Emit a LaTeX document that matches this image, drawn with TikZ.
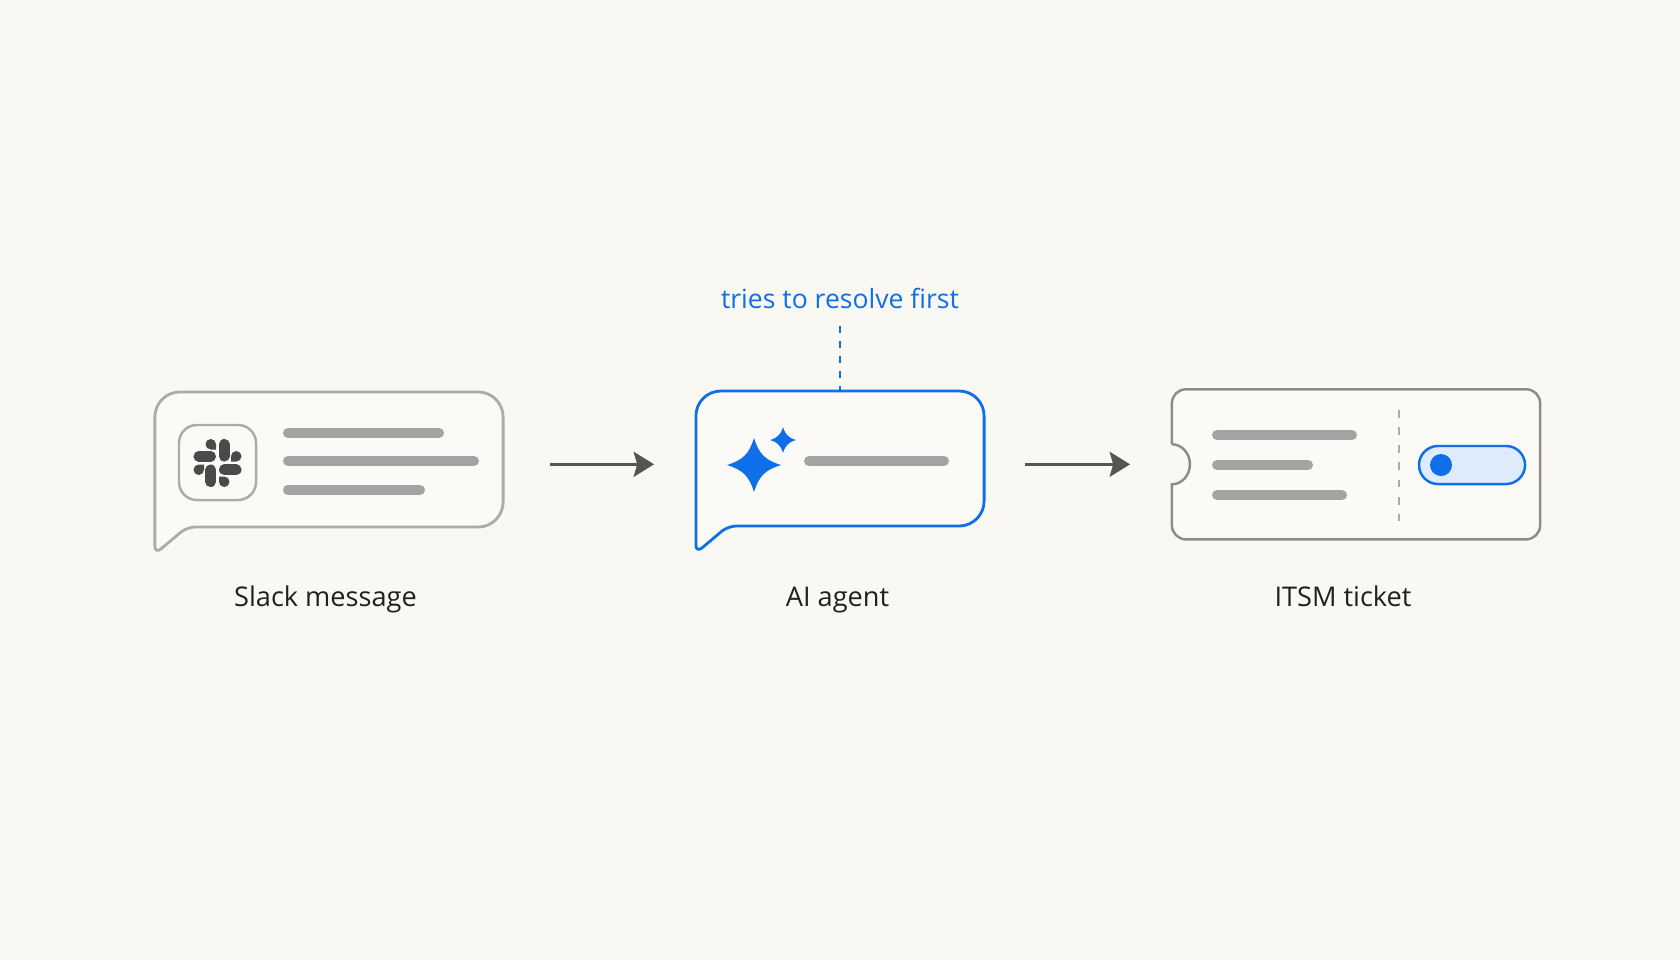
\documentclass[tikz,border=0pt]{standalone}
\usepackage{fontspec}
\setmainfont{Open Sans}
\usetikzlibrary{arrows.meta}
\usetikzlibrary{calc}
\definecolor{pagebg}{HTML}{F9F8F3}
\definecolor{cardbg}{HTML}{FBFAF7}
\definecolor{softgrey}{HTML}{ABABA8}
\definecolor{ticketgrey}{HTML}{8C8C8A}
\definecolor{bargrey}{HTML}{A3A3A3}
\definecolor{logogrey}{HTML}{4A4A4A}
\definecolor{arrowgrey}{HTML}{555555}
\definecolor{agentblue}{HTML}{0F6FE8}
\definecolor{toggleblue}{HTML}{DDEBFB}
\definecolor{inkblack}{HTML}{202124}
\begin{document}
\begin{tikzpicture}[x=0.01cm, y=-0.01cm]

\tikzstyle{frame}=[inner sep=0pt, outer sep=0pt]
\tikzstyle{caption}=[anchor=base, text=inkblack, font=\fontsize{7.72}{9}\selectfont]
\tikzstyle{line}=[draw=arrowgrey, line width=0.85pt, -{Stealth[length=5.8pt, width=7.1pt, inset=1pt]}]
\tikzstyle{bar}=[draw=bargrey, line width=2.85pt, line cap=round]
\tikzset{
  slackpiece/.pic={
    \draw[logogrey, line width=3pt, line cap=round] (-18.75,-6.75) -- (-6.75,-6.75);
    \fill[logogrey] (-1.5,-13.5) -- (-6.75,-13.5) arc (270:0:0.0525cm) -- cycle;
  },
  sparkle/.pic={
    \fill[agentblue] (0,-27) .. controls (5,-11) and (11,-5) .. (27,0)
      .. controls (11,5) and (5,11) .. (0,27)
      .. controls (-5,11) and (-11,5) .. (-27,0)
      .. controls (-11,-5) and (-5,-11) .. (0,-27) -- cycle;
  }
}

\path[use as bounding box, fill=pagebg] (0,0) rectangle (1680,960);

% cards
\node[frame, minimum width=3.48cm, minimum height=1.35cm] (slack) at (329,459.5) {};
\node[frame, minimum width=2.88cm, minimum height=1.35cm] (agent) at (840,458.5) {};
\node[frame, minimum width=3.68cm, minimum height=1.5cm] (ticket) at (1356,464.3) {};

\draw[softgrey, fill=cardbg, line width=0.8pt] (slack.west) [rounded corners=0.25cm] -- (slack.north west) -- (slack.north east) -- (slack.south east) [rounded corners=0.08cm] -- ($(slack.south west)+(32,0)$) -- ($(slack.south west)+(0,27)$) -- cycle;
\draw[agentblue, fill=cardbg, line width=0.8pt] (agent.west) [rounded corners=0.25cm] -- (agent.north west) -- (agent.north east) -- (agent.south east) [rounded corners=0.08cm] -- ($(agent.south west)+(32,0)$) -- ($(agent.south west)+(0,27)$) -- cycle;
\draw[ticketgrey, fill=cardbg, line width=0.7pt] ($(ticket.west)+(0,-20)$) [rounded corners=0.14cm] -- (ticket.north west) -- (ticket.north east) -- (ticket.south east) -- (ticket.south west) [sharp corners] -- ($(ticket.west)+(0,20)$) arc (-90:90:0.18cm and 0.2cm) -- cycle;

% slack card
\node[frame, draw=softgrey, line width=0.7pt, fill=cardbg, rounded corners=0.18cm, minimum width=0.77cm, minimum height=0.75cm] (icon) at (217.5,462.5) {};
\coordinate (logo) at (217.5,463);
\pic[rotate=0] at (logo) {slackpiece};
\pic[rotate=90] at (logo) {slackpiece};
\pic[rotate=180] at (logo) {slackpiece};
\pic[rotate=270] at (logo) {slackpiece};

\path[bar] (288,433) -- (439,433);
\path[bar] (288,461) -- (474,461);
\path[bar] (288,490) -- (420,490);

% agent card
\pic at (754,465) {sparkle};
\pic[scale=0.48] at (783,440) {sparkle};
\path[bar] (809,461) -- (944,461);

% ticket card
\path[bar] (1217,435) -- (1352,435);
\path[bar] (1217,465) -- (1308,465);
\path[bar] (1217,495) -- (1342,495);
\draw[softgrey, line width=0.7pt, dash pattern=on 2.2pt off 2.75pt] (1399,410) -- (1399,521);
\node[frame, draw=agentblue, fill=toggleblue, line width=0.7pt, rounded corners=0.19cm, minimum width=1.06cm, minimum height=0.38cm] (toggle) at (1472,465) {};
\node[frame, circle, fill=agentblue, minimum size=0.22cm] (knob) at (1441,465) {};

% captions
\node[caption] (slack_label) at (325.5,606) {Slack message};
\node[caption] (agent_label) at (837.5,606) {AI agent};
\node[caption] (ticket_label) at (1343,606) {ITSM ticket};
\node[caption, text=agentblue, font=\fontsize{7.55}{9}\selectfont] (hint) at (840,308) {tries to resolve first};

\path[draw=agentblue, line width=0.6pt, dash pattern=on 2pt off 2.3pt, shorten <=1.5pt] (hint.south) -- (agent.north);

\path[line, shorten <=13.2pt, shorten >=11.9pt] (slack.east |- ticket.west) -- (agent.west |- ticket.west);
\path[line, shorten <=11.7pt, shorten >=11.9pt] (agent.east |- ticket.west) -- (ticket.west);

\end{tikzpicture}
\end{document}
